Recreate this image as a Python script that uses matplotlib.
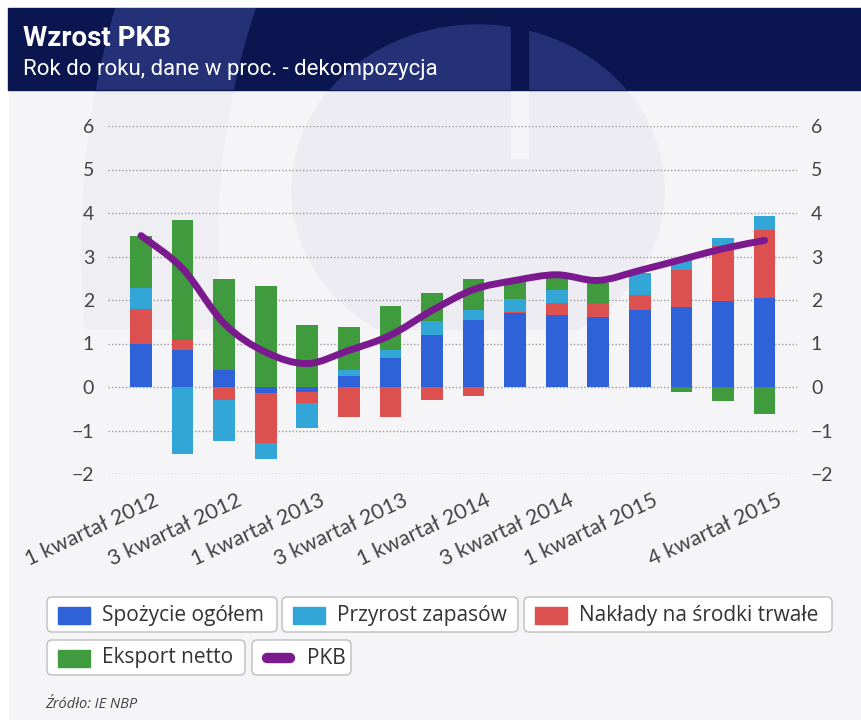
import numpy as np
import matplotlib
matplotlib.use("Agg")
import matplotlib.pyplot as plt
import matplotlib.transforms as mtrans
from matplotlib.patches import Rectangle, FancyBboxPatch, Ellipse, Annulus, PathPatch
from matplotlib.path import Path
from matplotlib.lines import Line2D

# Dane
kwartaly = ["1 kwartał 2012", "2 kwartał 2012", "3 kwartał 2012", "4 kwartał 2012",
            "1 kwartał 2013", "2 kwartał 2013", "3 kwartał 2013", "4 kwartał 2013",
            "1 kwartał 2014", "2 kwartał 2014", "3 kwartał 2014", "4 kwartał 2014",
            "1 kwartał 2015", "2 kwartał 2015", "3 kwartał 2015", "4 kwartał 2015"]
etykiety_idx = [0, 2, 4, 6, 8, 10, 12, 15]

spozycie = [0.98, 0.86, 0.38, -0.14, -0.11, 0.25, 0.67, 1.19, 1.55, 1.69, 1.65, 1.61, 1.76, 1.83, 1.98, 2.05]
naklady  = [0.82, 0.23, -0.31, -1.15, -0.26, -0.69, -0.69, -0.29, -0.21, 0.04, 0.29, 0.33, 0.35, 0.85, 1.25, 1.55]
zapasy   = [0.48, -1.55, -0.92, -0.36, -0.57, 0.13, 0.19, 0.33, 0.21, 0.29, 0.30, 0.00, 0.51, 0.25, 0.20, 0.33]
eksport  = [1.18, 2.76, 2.10, 2.33, 1.43, 1.01, 1.00, 0.63, 0.72, 0.43, 0.30, 0.45, 0.00, -0.11, -0.33, -0.61]
pkb      = [3.48, 2.72, 1.46, 0.80, 0.54, 0.84, 1.19, 1.76, 2.24, 2.45, 2.58, 2.45, 2.68, 2.93, 3.18, 3.37]

# Kolory
c_spoz = "#2f62d8"
c_zap = "#33a6d8"
c_nak = "#dc5050"
c_eks = "#409a3e"
c_pkb = "#7b1a8e"
c_navy = "#0b154f"
c_navy_jasny = "#243176"
c_tlo = "#f5f5f7"
c_znak = "#ececf2"
c_tekst = "#444444"


def gladka_sciezka(x, y):
    # krzywa Catmull-Rom przez punkty danych
    pts = np.column_stack([x, y]).astype(float)
    n = len(pts)
    verts = [pts[0]]
    codes = [Path.MOVETO]
    for i in range(n - 1):
        p0 = pts[i - 1] if i > 0 else pts[i]
        p1 = pts[i]
        p2 = pts[i + 1]
        p3 = pts[i + 2] if i + 2 < n else pts[i + 1]
        verts += [p1 + (p2 - p0) / 6, p2 - (p3 - p1) / 6, p2]
        codes += [Path.CURVE4] * 3
    return Path(verts, codes)


fig = plt.figure(figsize=(8.61, 7.2), dpi=100)
fig.patch.set_facecolor(c_tlo)

# tlo w pikselach: naglowek, znak wodny, legenda, zrodlo
bg = fig.add_axes([0, 0, 1, 1], zorder=-1)
bg.set_xlim(0, 861)
bg.set_ylim(720, 0)
bg.axis("off")


def dodaj(p, klip=None):
    bg.add_patch(p)
    if klip is not None:
        p.set_clip_path(Rectangle(klip[:2], klip[2], klip[3], transform=bg.transData))
    return p


def znak_wodny(kolor, tlo, y0, y1, kolor2=None):
    # przyblizony znak wodny (logo)
    dodaj(Annulus((480, 250), (398, 600), 135, color=kolor2 or kolor), (8, y0, 470, y1 - y0))
    dodaj(Ellipse((478, 190), 372, 330, color=kolor), (8, y0, 853, y1 - y0))
    dodaj(Rectangle((511, 0), 17, 158, color=tlo), (8, y0, 853, y1 - y0))


dodaj(Rectangle((0, 0), 861, 8, color="white"))
dodaj(Rectangle((0, 0), 8, 720, color="white"))
znak_wodny(c_znak, c_tlo, 90, 330, kolor2="#efeff3")

# naglowek
dodaj(Rectangle((8, 8), 853, 82, color=c_navy))
znak_wodny(c_navy_jasny, c_navy, 8, 90)

bg.text(23, 46, "Wzrost PKB", color="white", fontsize=20, fontweight="bold",
        family="Roboto", va="baseline")
bg.text(23, 75, "Rok do roku, dane w proc. - dekompozycja", color="white",
        fontsize=16, family="Roboto", va="baseline")

# wykres glowny
ax = fig.add_axes([108 / 861, 1 - 474 / 720, 689 / 861, 348 / 720])
ax.set_facecolor("none")
x = np.arange(len(kwartaly))
szer = 0.52

dodatnie = np.zeros(len(x))
ujemne = np.zeros(len(x))
for seria, kolor in [(spozycie, c_spoz), (naklady, c_nak), (zapasy, c_zap), (eksport, c_eks)]:
    v = np.array(seria)
    dol = np.where(v >= 0, dodatnie, ujemne)
    ax.bar(x, v, szer, bottom=dol, color=kolor, zorder=2)
    dodatnie += np.where(v >= 0, v, 0)
    ujemne += np.where(v < 0, v, 0)

ax.add_patch(PathPatch(gladka_sciezka(x, pkb), fill=False, edgecolor=c_pkb, lw=5,
                       capstyle="round", joinstyle="round", zorder=3))

ax.set_xlim(-0.794, 15.78)
ax.set_ylim(-2, 6)
ax.set_yticks(range(-2, 7))
ax.grid(axis="y", color="#9a9a9a", linestyle=(0, (1, 1.5)), lw=1, zorder=0)
ax.tick_params(axis="y", length=0, pad=10, labelsize=14, labelcolor=c_tekst,
               labelright=True)
for s in ax.spines.values():
    s.set_visible(False)
for t in ax.yaxis.get_ticklabels():
    t.set_family("Lato")

ax.set_xticks(x[etykiety_idx])
ax.set_xticklabels([kwartaly[i] for i in etykiety_idx], rotation=25, ha="right",
                   rotation_mode="anchor", fontsize=15.5, color=c_tekst, family="Lato")
ax.tick_params(axis="x", length=0, pad=12)
przes = mtrans.ScaledTranslation(12 / 100, 0, fig.dpi_scale_trans)
for t in ax.get_xticklabels():
    t.set_transform(t.get_transform() + przes)

# legenda (osobne ramki)
legenda = [
    ("Spożycie ogółem", c_spoz, "kw", 47, 597, 230),
    ("Przyrost zapasów", c_zap, "kw", 282, 597, 236),
    ("Nakłady na środki trwałe", c_nak, "kw", 524, 597, 308),
    ("Eksport netto", c_eks, "kw", 47, 640, 198),
    ("PKB", c_pkb, "linia", 252, 640, 99),
]
for nazwa, kolor, typ, lx, ly, lw_ in legenda:
    dodaj(FancyBboxPatch((lx, ly), lw_, 35, boxstyle="round,pad=0,rounding_size=5",
                         facecolor="white", edgecolor="#bdbdbd", lw=1))
    if typ == "kw":
        dodaj(Rectangle((lx + 11, ly + 10), 32, 17, color=kolor))
    else:
        bg.add_line(Line2D([lx + 15, lx + 38], [ly + 18, ly + 18], color=kolor, lw=7.5,
                           solid_capstyle="round"))
    bg.text(lx + 55, ly + 18, nazwa, fontsize=15, color="#333333", family="Open Sans",
            va="center")

bg.text(45, 705, "Źródło: IE NBP", fontsize=10.5, style="italic", color=c_tekst,
        family="Open Sans", va="center")

fig.savefig("out.png", dpi=100, facecolor=fig.get_facecolor())
